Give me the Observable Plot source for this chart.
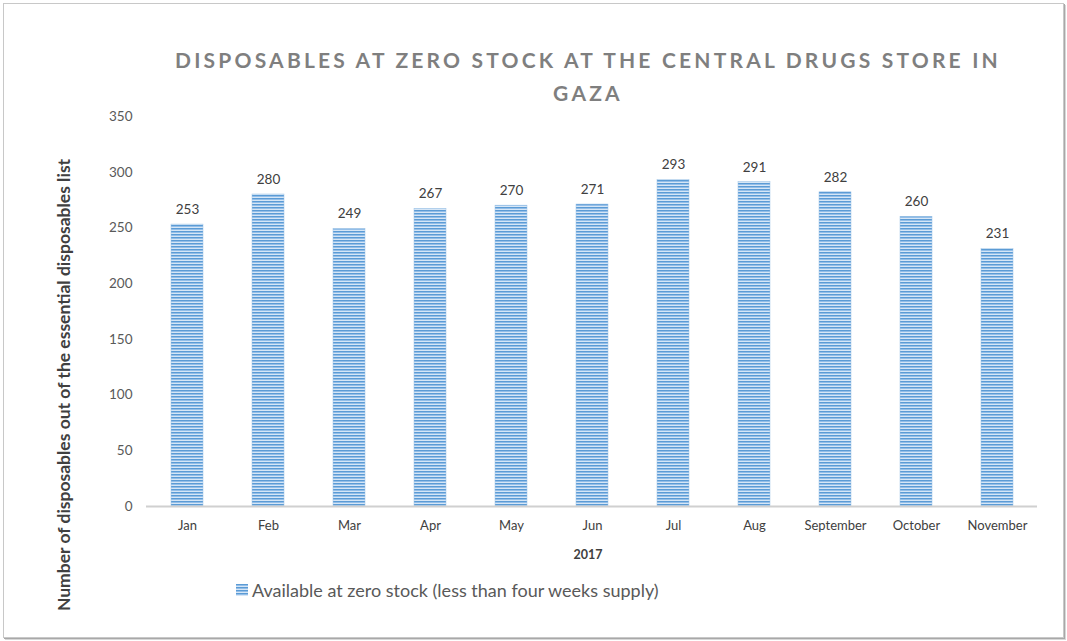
<!DOCTYPE html>
<html><head><meta charset="utf-8">
<script src="https://cdn.jsdelivr.net/npm/d3@7"></script>
<script src="https://cdn.jsdelivr.net/npm/@observablehq/plot@0.6"></script>
<style>
body{margin:0;background:#fff;font-family:Lato,"Open Sans",sans-serif;}
#wrap{position:relative;width:1067px;height:641px;overflow:hidden;}
#frame{position:absolute;left:3px;top:3px;width:1059px;height:633px;border:1px solid #c8c8c8;box-shadow:1px 1px 0 #a8a8a8, 2px 2px 0 #d8d8d8;}
#title{position:absolute;left:150px;width:876px;top:43px;text-align:center;font-weight:bold;font-size:21px;letter-spacing:3.2px;line-height:33px;color:#7f7f7f;}
#ylab{position:absolute;left:63px;top:385px;transform:translate(-50%,-50%) rotate(-90deg);white-space:nowrap;font-weight:bold;font-size:17.5px;color:#404040;}
#xlab{position:absolute;left:588px;top:554px;transform:translate(-50%,-50%);font-weight:bold;font-size:12.5px;color:#404040;}
#legend{position:absolute;left:236px;top:579px;font-size:18px;color:#595959;display:flex;align-items:center;}
#legend svg{margin-right:4px;}
#chart{position:absolute;left:0;top:0;}
</style></head>
<body>
<svg width="0" height="0" style="position:absolute">
  <defs>
    <pattern id="stripes" patternUnits="userSpaceOnUse" width="6" height="3">
      <rect x="0" y="0" width="6" height="3" fill="#d6e6f6"/>
      <rect x="0" y="0" width="6" height="1" fill="#5b9bd5"/>
      <rect x="0" y="1" width="6" height="1" fill="#93bee8"/>
    </pattern>
  </defs>
</svg>
<div id="wrap">
  <div id="frame"></div>
  <div id="chart"></div>
  <div id="title">DISPOSABLES AT ZERO STOCK AT THE CENTRAL DRUGS STORE IN<br>GAZA</div>
  <div id="ylab">Number of disposables out of the essential disposables list</div>
  <div id="xlab">2017</div>
  <div id="legend"><svg width="12" height="12"><rect width="12" height="12" fill="url(#stripes)"/></svg><span id="legtext"></span></div>
</div>
<script>
const months = ["Jan","Feb","Mar","Apr","May","Jun","Jul","Aug","September","October","November"];
const values = [253,280,249,267,270,271,293,291,282,260,231];
const yTicks = [0,50,100,150,200,250,300,350];
const seriesName = "Available at zero stock (less than four weeks supply)";

document.getElementById("legtext").textContent = seriesName;
const data = months.map((m,i)=>({month:m, value:values[i]}));

const chart = Plot.plot({
  width:1067, height:641,
  marginLeft:146, marginRight:30, marginTop:116, marginBottom:135,
  style:{fontFamily:"Lato, 'Open Sans', sans-serif", background:"transparent"},
  x:{domain:months, paddingInner:0.605, paddingOuter:0.3, label:null},
  y:{domain:[0,350], label:null},
  marks:[
    Plot.barY(data,{x:"month", y:"value", fill:"url(#stripes)", stroke:"#9dc3e6", strokeWidth:0.5}),
    Plot.ruleY([0],{stroke:"#d0d0d0", strokeWidth:2}),
    Plot.text(data,{x:"month", y:"value", text:d=>String(d.value), dy:-15, fontSize:13.5, fill:"#404040"}),
    Plot.axisY({ticks:yTicks, tickSize:0, tickPadding:14, fontSize:13.5, fill:"#595959", label:null}),
    Plot.axisX({tickSize:0, tickPadding:14, fontSize:13, fill:"#404040", label:null})
  ]
});
document.getElementById("chart").appendChild(chart);
</script>
</body></html>
